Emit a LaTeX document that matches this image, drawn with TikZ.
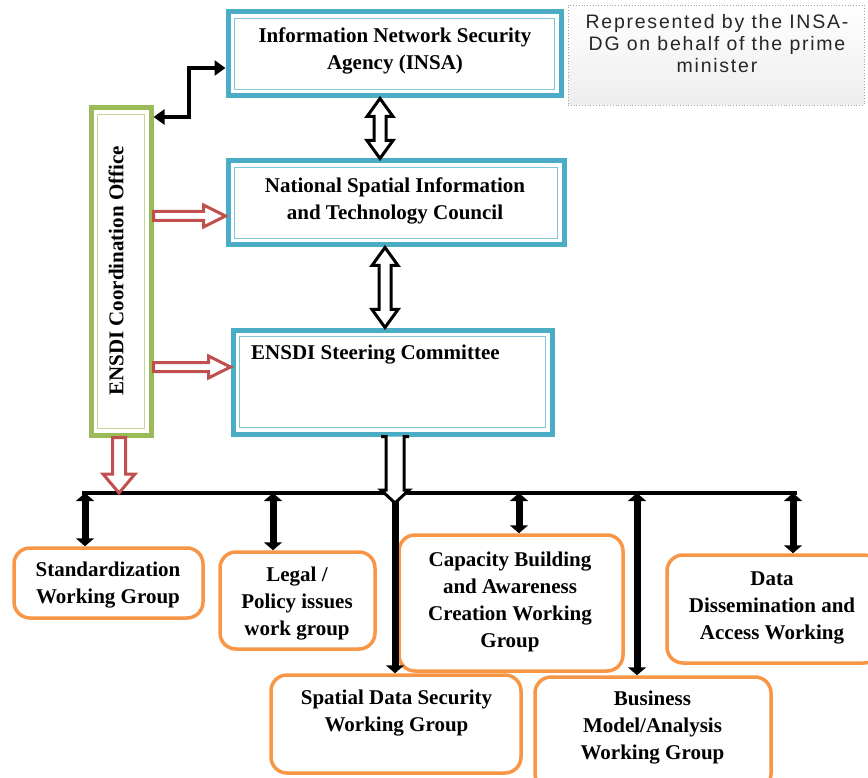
\documentclass[tikz,border=0pt]{standalone}
\usepackage{fontspec}
\setmainfont{Liberation Serif}
\newfontfamily\calloutfont[LetterSpace=9]{Liberation Sans}
\usetikzlibrary{arrows.meta,calc}
\definecolor{cyanB}{HTML}{4BACC6}
\definecolor{cyanL}{HTML}{7FC6DA}
\definecolor{greenB}{HTML}{9BBB59}
\definecolor{greenL}{HTML}{C3D69B}
\definecolor{orangeB}{HTML}{F79646}
\definecolor{redB}{HTML}{C0504D}

\tikzset{
  boxtext/.style={font=\fontsize{21}{27}\selectfont\bfseries, align=center, inner sep=0pt},
  dblbox/.style 2 args={draw=#1, line width=5pt, fill=white, inner sep=0pt,
    path picture={\draw[#2, line width=1.6pt]
      ([shift={(6.5pt,-6.5pt)}]path picture bounding box.north west) rectangle
      ([shift={(-6.5pt,6.5pt)}]path picture bounding box.south east);}},
  cyanbox/.style={dblbox={cyanB}{cyanL}},
  greenbox/.style={dblbox={greenB}{greenL}},
  wgbox/.style={draw=orangeB, line width=3.5pt, rounded corners=16pt, fill=white, inner sep=0pt},
  solidarr/.style={line width=7pt, {Triangle[length=8pt,width=18pt]}-{Triangle[length=8pt,width=18pt]}},
  solidone/.style={line width=7pt, -{Triangle[length=8pt,width=18pt]}},
  elbowarr/.style={line width=4pt, {Triangle[length=11pt,width=15pt]}-{Triangle[length=11pt,width=15pt]}},
  busline/.style={line width=4pt},
  hollowblk/.style={draw=black, line width=3pt, fill=white, line join=miter},
  hollowred/.style={draw=redB, line width=3pt, fill=white, line join=miter},
}

% vertical hollow double arrow: style, top point, bottom point
\newcommand\hollowVV[3]{%
  \path[#1] let \p1=(#2), \p2=(#3) in
  (\x1,\y1) -- (\x1+13pt,\y1-18pt) -- (\x1+6pt,\y1-18pt) -- (\x1+6pt,\y2+18pt)
  -- (\x1+13pt,\y2+18pt) -- (\x1,\y2) -- (\x1-13pt,\y2+18pt) -- (\x1-6pt,\y2+18pt)
  -- (\x1-6pt,\y1-18pt) -- (\x1-13pt,\y1-18pt) -- cycle;}
% horizontal hollow single arrow (left to right): style, start, end
\newcommand\hollowH[3]{%
  \path[#1] let \p1=(#2), \p2=(#3) in
  (\x1,\y1+4.5pt) -- (\x2-22pt,\y1+4.5pt) -- (\x2-22pt,\y1+11pt) -- (\x2,\y1)
  -- (\x2-22pt,\y1-11pt) -- (\x2-22pt,\y1-4.5pt) -- (\x1,\y1-4.5pt) -- cycle;}
% vertical hollow single arrow (downwards): style, start, end
\newcommand\hollowV[3]{%
  \path[#1] let \p1=(#2), \p2=(#3) in
  (\x1-6.5pt,\y1) -- (\x1-6.5pt,\y2+19pt) -- (\x1-16pt,\y2+19pt) -- (\x1,\y2)
  -- (\x1+16pt,\y2+19pt) -- (\x1+6.5pt,\y2+19pt) -- (\x1+6.5pt,\y1) -- cycle;}

\begin{document}
\begin{tikzpicture}[x=1pt,y=-1pt]
\useasboundingbox (0,0) rectangle (868,778);

% callout
\node[draw=gray!70, dotted, line width=0.8pt, top color=white, bottom color=gray!14,
      minimum width=296pt, minimum height=100pt, inner sep=0pt] (callout) at (716,55) {};
\node[font=\calloutfont\fontsize{19.5}{22}\selectfont, align=center, text=black!85, inner sep=0pt]
  (callout-t) at (717,44) {Represented by the INSA-\\DG on behalf of the prime\\minister};

% main boxes
\node[cyanbox, minimum width=333pt, minimum height=84pt] (insa) at (394.5,54) {};
\node[boxtext] (insa-t) at (395,51) {Information Network Security\\Agency (INSA)};
\node[cyanbox, minimum width=336pt, minimum height=84pt] (nsitc) at (396,203) {};
\node[boxtext] (nsitc-t) at (395,201) {National Spatial Information\\and Technology Council};
\node[cyanbox, minimum width=319pt, minimum height=104pt] (steer) at (392.5,382) {};
\node[boxtext, anchor=west] (steer-t) at (251,355) {ENSDI Steering Committee};
\node[greenbox, minimum width=60pt, minimum height=327pt] (coord) at (121,271.5) {};
\node[boxtext, rotate=90] (coord-t) at (116,271) {ENSDI Coordination Office};

% working groups
\node[wgbox, minimum width=189pt, minimum height=70pt] (std) at (108.5,583) {};
\node[boxtext] (std-t) at (108,585) {Standardization\\Working Group};
\node[wgbox, minimum width=155pt, minimum height=97pt] (legal) at (297.5,600.5) {};
\node[boxtext] (legal-t) at (297,604) {Legal /\\Policy issues\\work group};
\node[wgbox, minimum width=224pt, minimum height=136pt] (cap) at (511,603) {};
\node[boxtext] (cap-t) at (510,602) {Capacity Building\\and Awareness\\Creation Working\\Group};
\node[wgbox, minimum width=213pt, minimum height=108pt] (data) at (773.5,609) {};
\node[boxtext] (data-t) at (772,608) {Data\\Dissemination and\\Access Working};
\node[wgbox, minimum width=250pt, minimum height=98pt] (spatial) at (396,724) {};
\node[boxtext] (spatial-t) at (396.5,713) {Spatial Data Security\\Working Group};
\node[wgbox, minimum width=236pt, minimum height=113pt] (business) at (653,733.5) {};
\node[boxtext] (business-t) at (652.5,728) {Business\\Model/Analysis\\Working Group};

% bus
\coordinate (busL) at (82,493);
\coordinate (busR) at (797,493);
\draw[busline] (busL) -- (busR);

% INSA <-> coordination office
\draw[elbowarr] ([yshift=-11.5pt]coord.north east) -- ++(35,0) |- ([yshift=-14pt]insa.west);

% hollow black double arrows
\hollowVV{hollowblk}{380,0 |- insa.south}{380,0 |- nsitc.north}
\hollowVV{hollowblk}{385,0 |- nsitc.south}{385,0 |- steer.north}

% red hollow arrows from coordination office
\hollowH{hollowred}{coord.east |- 0,216}{nsitc.west |- 0,216}
\hollowH{hollowred}{coord.east |- 0,367}{steer.west |- 0,367}
\hollowV{hollowred}{119,0 |- coord.south}{119,0 |- busL}

% working group connectors
\draw[solidone] (395,0 |- busL) -- (395,0 |- spatial.north);
\draw[solidarr] (85,0 |- busL) -- (85,0 |- std.north);
\draw[solidarr] (273,0 |- busL) -- (273,0 |- legal.north);
\draw[solidarr] (519,0 |- busL) -- (519,0 |- cap.north);
\draw[solidarr] (637,0 |- busL) -- (637,0 |- business.north);
\draw[solidarr] (793,0 |- busL) -- (793,0 |- data.north);

% steering committee down to bus (hollow)
\path[hollowblk] let \p1=(395,0 |- steer.south), \p2=(395,0 |- busL) in
  (\x1-14pt,\y1) -- (\x1-9pt,\y1) -- (\x1-9pt,\y2+3pt) -- (\x1-14pt,\y2+3pt) -- (\x1,\y2-10pt)
  -- (\x1+14pt,\y2+3pt) -- (\x1+9pt,\y2+3pt) -- (\x1+9pt,\y1) -- (\x1+14pt,\y1);
\end{tikzpicture}
\end{document}
